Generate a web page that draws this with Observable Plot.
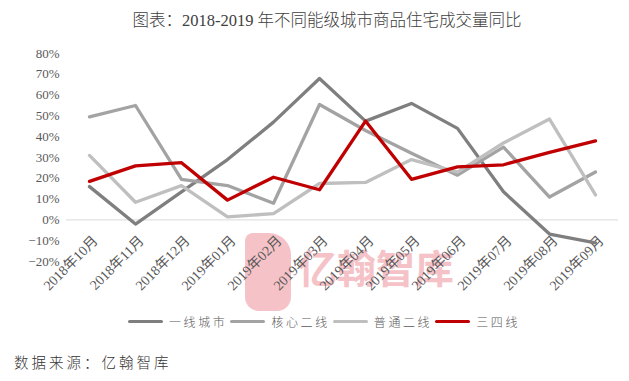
<!DOCTYPE html>
<html><head><meta charset="utf-8">
<script src="https://cdn.jsdelivr.net/npm/d3@7"></script>
<script src="https://cdn.jsdelivr.net/npm/@observablehq/plot@0.6"></script>
<style>
body{margin:0;background:#fff;}
#wrap{position:relative;width:629px;height:381px;overflow:hidden;font-family:"Liberation Serif","Noto Sans CJK SC",serif;}
#title{position:absolute;left:0;width:654px;top:7px;text-align:center;font-size:16.5px;font-weight:300;color:#404040;white-space:nowrap;}
#logo{position:absolute;left:245px;top:233px;width:46px;height:78px;background:#f5c2c7;border-radius:8px 22px 14px 14px;}
#wm{position:absolute;left:298px;top:238px;font-family:"Noto Sans CJK SC",sans-serif;font-weight:700;font-size:39px;color:#f5c2c7;white-space:nowrap;}
#chart{position:absolute;left:0;top:0;}
#legend{position:absolute;left:128px;top:313px;display:flex;align-items:center;font-family:"Noto Sans CJK SC",sans-serif;font-weight:300;font-size:12px;color:#595959;letter-spacing:2.6px;white-space:nowrap;}
#legend .sw{width:35px;height:3.5px;border-radius:2px;margin-right:6px;}
#legend .lb{margin-right:3px;}
#source{position:absolute;left:14px;top:351px;font-family:"Noto Sans CJK SC",sans-serif;font-weight:300;font-size:14.5px;color:#333;letter-spacing:3px;white-space:nowrap;}
</style></head><body>
<div id="wrap">
<div id="title">图表：2018-2019 年不同能级城市商品住宅成交量同比</div>
<div id="logo"></div>
<div id="wm">亿翰智库</div>
<div id="chart"></div>
<div id="legend"></div>
<div id="source">数据来源：亿翰智库</div>
</div>
<script>
const months = ["2018年10月","2018年11月","2018年12月","2019年01月","2019年02月","2019年03月","2019年04月","2019年05月","2019年06月","2019年07月","2019年08月","2019年09月"];
const tier1   = [16, -2, 13.5, 29, 47, 68, 47.5, 56, 44, 13.5, -6.8, -11];
const core2   = [49.5, 55, 19.5, 16.5, 8, 55.5, 43, 32, 21.5, 35, 11, 23];
const normal2 = [31, 8.5, 16.5, 1.5, 3, 17.5, 18, 29, 23, 37, 48.5, 12];
const tier34  = [18.5, 26, 27.5, 9.5, 20.5, 14.5, 47.5, 19.5, 25.5, 26.5, 32.5, 38];
const seriesNames = ["一线城市","核心二线","普通二线","三四线"];
const yTicks = [-20,-10,0,10,20,30,40,50,60,70,80];

const seriesValues = [tier1, core2, normal2, tier34];
const colors = ["#7f7f7f","#a3a3a3","#bfbfbf","#c00000"];
const rows = seriesNames.flatMap((name, s) => months.map((m, i) => ({series: name, month: m, value: seriesValues[s][i]})));

const chart = Plot.plot({
  width: 629, height: 310,
  marginTop: 53, marginBottom: 49, marginLeft: 66, marginRight: 11,
  style: {background: "transparent", fontFamily: "'Liberation Serif','Noto Sans CJK SC',serif", color: "#595959"},
  x: {type: "point", domain: months, padding: 0.5, axis: null},
  y: {domain: [-20, 80], axis: null},
  color: {domain: seriesNames, range: colors},
  marks: [
    Plot.ruleY([0], {stroke: "#d9d9d9", strokeWidth: 1}),
    Plot.axisY({ticks: yTicks, label: null, tickSize: 0, tickPadding: 7, fontSize: 13,
      tickFormat: d => (d < 0 ? "−" + (-d) : d) + "%"}),
    Plot.text(months, {x: d => d, y: -20, text: d => d, rotate: -45, textAnchor: "end",
      dx: 6, dy: -23, fontSize: 14, fill: "#595959"}),
    Plot.line(rows, {x: "month", y: "value", z: "series", stroke: "series",
      strokeWidth: 3.3, strokeLinejoin: "round"})
  ]
});
document.getElementById("chart").appendChild(chart);

const legend = document.getElementById("legend");
seriesNames.forEach((name, i) => {
  const sw = document.createElement("span");
  sw.className = "sw"; sw.style.background = colors[i];
  const lb = document.createElement("span");
  lb.className = "lb"; lb.textContent = name;
  legend.appendChild(sw); legend.appendChild(lb);
});
</script>
</body></html>
